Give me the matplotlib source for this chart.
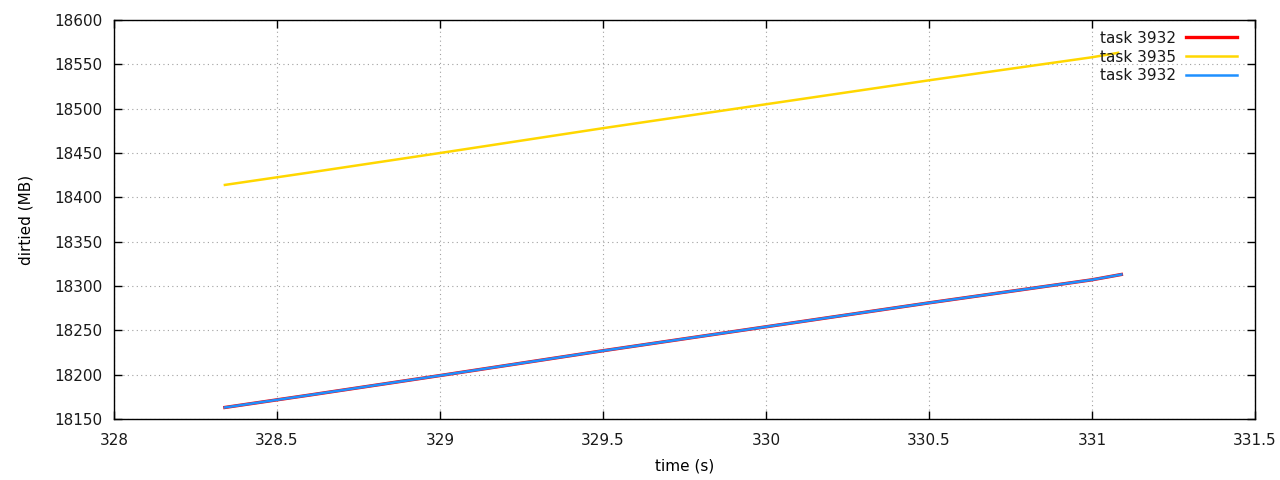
import matplotlib
matplotlib.use('Agg')
import matplotlib.pyplot as plt
import numpy as np

# values
t_3932 = [328.34, 328.6, 329.0, 329.5, 330.0, 330.5, 331.0, 331.09]
mb_3932 = [18163, 18177, 18199, 18227, 18254, 18281, 18307, 18313]
t_3935 = [328.34, 328.6, 329.0, 329.5, 330.0, 330.5, 331.0, 331.08]
mb_3935 = [18414, 18428, 18450, 18478, 18505, 18532, 18558, 18563]

xticks = [328, 328.5, 329, 329.5, 330, 330.5, 331, 331.5]
xticklabels = ['328', '328.5', '329', '329.5', '330', '330.5', '331', '331.5']
yticks = np.arange(18150, 18601, 50)

plt.rcParams['font.family'] = ['DejaVu Sans']
plt.rcParams['font.size'] = 11
plt.rcParams['text.color'] = '#1a1a1a'
plt.rcParams['xtick.labelcolor'] = '#1a1a1a'
plt.rcParams['ytick.labelcolor'] = '#1a1a1a'

fig = plt.figure(figsize=(12.8, 4.8), dpi=100)
ax = fig.add_axes([0.0891, 0.1271, 0.8914, 0.8312])

ax.plot(t_3932, mb_3932, color='#ff0000', lw=2.4, label='task 3932')
ax.plot(t_3935, mb_3935, color='#ffd700', lw=1.8, label='task 3935')
ax.plot(t_3932, mb_3932, color='#1e90ff', lw=1.8, label='task 3932')

ax.set_xlim(328, 331.5)
ax.set_ylim(18150, 18600)
ax.set_xticks(xticks)
ax.set_xticklabels(xticklabels)
ax.set_yticks(yticks)
ax.tick_params(axis='both', direction='in', top=True, right=True, length=6, width=1)
ax.tick_params(axis='x', pad=10)
ax.tick_params(axis='y', pad=8)
ax.grid(True, color='#a0a0a0', linestyle=(0, (1, 3)), linewidth=0.8)
for s in ax.spines.values():
    s.set_linewidth(1)
ax.set_xlabel('time (s)', labelpad=8)
ax.set_ylabel('dirtied (MB)', labelpad=15)

leg = ax.legend(loc='upper right', bbox_to_anchor=(0.9933, 1.0), frameon=False,
                markerfirst=False, handlelength=3.3, handletextpad=0.65,
                labelspacing=0.25, borderaxespad=0.3, fontsize=11)

fig.savefig('out.png', dpi=100)
